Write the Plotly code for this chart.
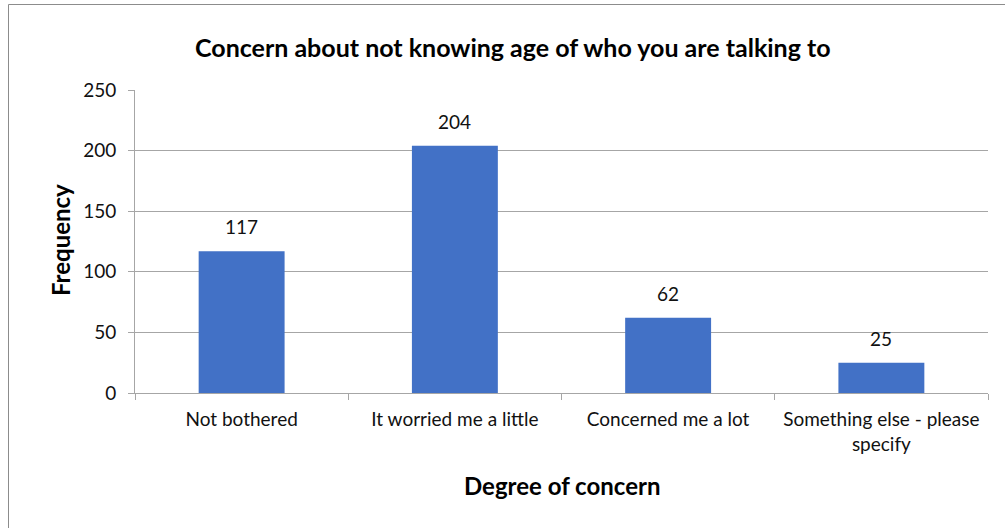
import plotly.graph_objects as go

categories = ["Not bothered", "It worried me a little", "Concerned me a lot", "Something else - please<br>specify"]
frequency = [117, 204, 62, 25]
y_ticks = [0, 50, 100, 150, 200, 250]

FONT = "Lato"
GRID = "#A6A6A6"
TICK_SIZE = 19
TITLE_SIZE = 24

fig = go.Figure()
fig.add_trace(go.Bar(
    x=categories, y=frequency,
    marker=dict(color="#4271C6", line=dict(width=0)),
))

W, H = 1005, 528
L, R, T, B = 135, 17, 90, 135
pw, ph = W - L - R, H - T - B

def px(x):
    return (x - L) / pw

def py(y):
    return (H - B - y) / ph

annotations = [
    dict(x=c, y=v, xref="x", yref="y", text=str(v), showarrow=False,
         xanchor="center", yanchor="bottom", yshift=11,
         font=dict(family=FONT, size=TICK_SIZE, color="#111"))
    for c, v in zip(categories, frequency)
]
annotations += [
    dict(text="<b>Concern about not knowing age of who you are talking to</b>",
         xref="paper", yref="paper", x=px(513), y=py(47),
         xanchor="center", yanchor="middle", showarrow=False,
         font=dict(family=FONT, size=25, color="#000")),
    dict(text="<b>Frequency</b>", textangle=-90,
         xref="paper", yref="paper", x=px(60), y=py(240),
         xanchor="center", yanchor="middle", showarrow=False,
         font=dict(family=FONT, size=TITLE_SIZE, color="#000")),
    dict(text="<b>Degree of concern</b>",
         xref="paper", yref="paper", x=px(562), y=py(485),
         xanchor="center", yanchor="middle", showarrow=False,
         font=dict(family=FONT, size=TITLE_SIZE, color="#000")),
]

fig.update_layout(
    width=W, height=H,
    margin=dict(l=L, r=R, t=T, b=B),
    paper_bgcolor="white", plot_bgcolor="white",
    bargap=0.597,
    showlegend=False,
    font=dict(family=FONT, size=TICK_SIZE, color="#111"),
    xaxis=dict(
        showline=True, linecolor=GRID, linewidth=1,
        ticks="outside", tickson="boundaries", ticklen=6, tickcolor=GRID,
        tickfont=dict(family=FONT, size=TICK_SIZE, color="#111"),
        ticklabelstandoff=9,
        showgrid=False,
    ),
    yaxis=dict(
        range=[0, 250], tickvals=y_ticks,
        showline=True, linecolor=GRID, linewidth=1,
        ticks="outside", ticklen=6, tickcolor=GRID,
        ticklabelstandoff=8,
        gridcolor=GRID, gridwidth=1,
        zeroline=False,
        tickfont=dict(family=FONT, size=TICK_SIZE, color="#111"),
    ),
    annotations=annotations,
    shapes=[
        dict(type="rect", xref="paper", yref="paper",
             x0=px(8.5), x1=px(1040), y0=py(560), y1=py(4.5),
             line=dict(color="#8C8C8C", width=1), fillcolor="rgba(0,0,0,0)",
             layer="below"),
    ],
)

fig.write_html("out.html")
